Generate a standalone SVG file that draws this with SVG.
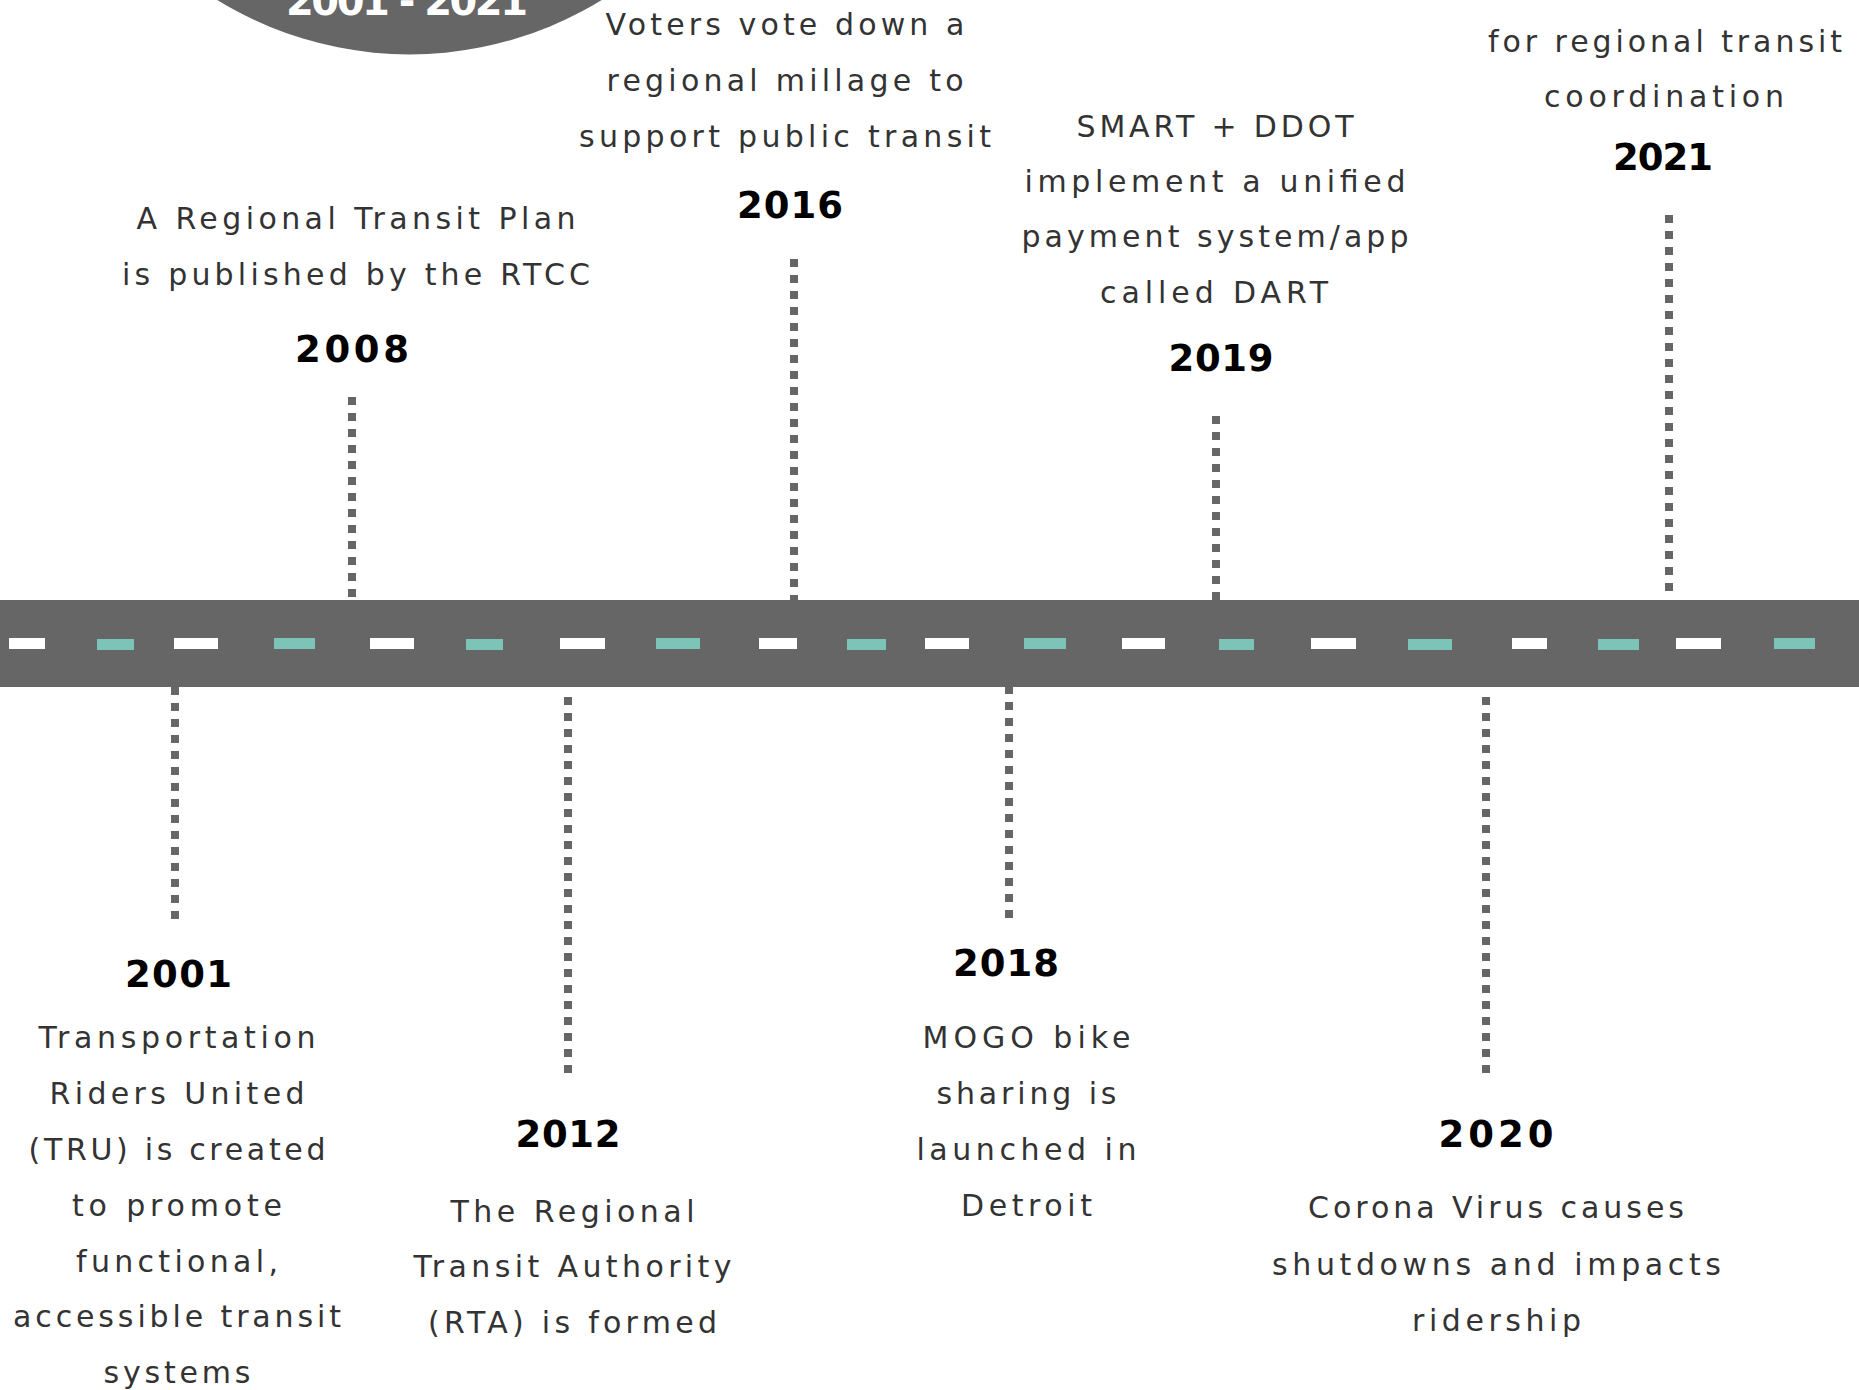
<svg xmlns="http://www.w3.org/2000/svg" width="1859" height="1390" viewBox="0 0 1859 1390">
  <style>
    .body { font-family: "DejaVu Sans", "Open Sans", sans-serif; font-size: 30px; fill: #333; text-anchor: middle; }
    .year { font-family: "DejaVu Sans", "Open Sans", sans-serif; font-size: 37px; font-weight: 700; fill: #000; text-anchor: middle; }
    .title { font-family: "DejaVu Sans", "Open Sans", sans-serif; font-size: 40px; font-weight: 700; fill: #fff; text-anchor: middle; }
    .tick { stroke: #666; stroke-width: 8; stroke-dasharray: 8 8; fill: none; }
    .lane-w { fill: #fff; }
    .lane-t { fill: #7cc4b8; }
  </style>

  <rect width="1859" height="1390" fill="#fff"/>

  <!-- title badge -->
  <g id="badge">
    <circle cx="409.5" cy="-312.6" r="367" fill="#666"/>
    <text class="title" x="407" y="15" textLength="242" lengthAdjust="spacing">2001 - 2021</text>
  </g>

  <!-- dotted ticks between the road and each event -->
  <g id="connectors">
    <line class="tick" x1="175" y1="687" x2="175" y2="919"/>
    <line class="tick" x1="352" y1="397" x2="352" y2="597"/>
    <line class="tick" x1="568" y1="697" x2="568" y2="1073"/>
    <line class="tick" x1="794" y1="259" x2="794" y2="603"/>
    <line class="tick" x1="1009" y1="686" x2="1009" y2="918"/>
    <line class="tick" x1="1216" y1="416" x2="1216" y2="600"/>
    <line class="tick" x1="1486" y1="697" x2="1486" y2="1073"/>
    <line class="tick" x1="1669" y1="215" x2="1669" y2="591"/>
  </g>

  <!-- road with lane markings -->
  <g id="road">
    <rect x="0" y="600" width="1859" height="87" fill="#666"/>
    <rect class="lane-w" x="9" y="638" width="36" height="11"/>
    <rect class="lane-t" x="97" y="639" width="37" height="11"/>
    <rect class="lane-w" x="174" y="638" width="44" height="11"/>
    <rect class="lane-t" x="274" y="638" width="41" height="11"/>
    <rect class="lane-w" x="370" y="638" width="44" height="11"/>
    <rect class="lane-t" x="466" y="639" width="37" height="11"/>
    <rect class="lane-w" x="560" y="638" width="45" height="11"/>
    <rect class="lane-t" x="656" y="638" width="44" height="11"/>
    <rect class="lane-w" x="759" y="638" width="38" height="11"/>
    <rect class="lane-t" x="847" y="639" width="39" height="11"/>
    <rect class="lane-w" x="925" y="638" width="44" height="11"/>
    <rect class="lane-t" x="1024" y="638" width="42" height="11"/>
    <rect class="lane-w" x="1122" y="638" width="43" height="11"/>
    <rect class="lane-t" x="1219" y="639" width="35" height="11"/>
    <rect class="lane-w" x="1311" y="638" width="45" height="11"/>
    <rect class="lane-t" x="1408" y="639" width="44" height="11"/>
    <rect class="lane-w" x="1512" y="638" width="35" height="11"/>
    <rect class="lane-t" x="1598" y="639" width="41" height="11"/>
    <rect class="lane-w" x="1676" y="638" width="45" height="11"/>
    <rect class="lane-t" x="1774" y="638" width="41" height="11"/>
  </g>

  <!-- events above the road -->
  <g id="event-2008">
    <text class="body" x="356" y="229" textLength="439" lengthAdjust="spacing">A Regional Transit Plan</text>
    <text class="body" x="356" y="285" textLength="468" lengthAdjust="spacing">is published by the RTCC</text>
    <text class="year" x="352" y="362" textLength="114" lengthAdjust="spacing">2008</text>
  </g>

  <g id="event-2016">
    <text class="body" x="785" y="35" textLength="359" lengthAdjust="spacing">Voters vote down a</text>
    <text class="body" x="785" y="91" textLength="357" lengthAdjust="spacing">regional millage to</text>
    <text class="body" x="785" y="147" textLength="412" lengthAdjust="spacing">support public transit</text>
    <text class="year" x="790" y="218" textLength="106" lengthAdjust="spacing">2016</text>
  </g>

  <g id="event-2019">
    <text class="body" x="1215" y="137" textLength="277" lengthAdjust="spacing">SMART + DDOT</text>
    <text class="body" x="1215" y="192" textLength="381" lengthAdjust="spacing">implement a unified</text>
    <text class="body" x="1215" y="247" textLength="387" lengthAdjust="spacing">payment system/app</text>
    <text class="body" x="1214" y="303" textLength="228" lengthAdjust="spacing">called DART</text>
    <text class="year" x="1221" y="371" textLength="105" lengthAdjust="spacing">2019</text>
  </g>

  <g id="event-2021">
    <text class="body" x="1665" y="52" textLength="354" lengthAdjust="spacing">for regional transit</text>
    <text class="body" x="1664" y="107" textLength="240" lengthAdjust="spacing">coordination</text>
    <text class="year" x="1663" y="170" textLength="100" lengthAdjust="spacing">2021</text>
  </g>

  <!-- events below the road -->
  <g id="event-2001">
    <text class="year" x="178.5" y="987" textLength="107" lengthAdjust="spacing">2001</text>
    <text class="body" x="177" y="1048" textLength="277" lengthAdjust="spacing">Transportation</text>
    <text class="body" x="177" y="1104" textLength="255" lengthAdjust="spacing">Riders United</text>
    <text class="body" x="177" y="1160" textLength="297" lengthAdjust="spacing">(TRU) is created</text>
    <text class="body" x="177" y="1216" textLength="210" lengthAdjust="spacing">to promote</text>
    <text class="body" x="177" y="1272" textLength="202" lengthAdjust="spacing">functional,</text>
    <text class="body" x="177" y="1327" textLength="328" lengthAdjust="spacing">accessible transit</text>
    <text class="body" x="177" y="1383" textLength="147" lengthAdjust="spacing">systems</text>
  </g>

  <g id="event-2012">
    <text class="year" x="568" y="1147" textLength="105" lengthAdjust="spacing">2012</text>
    <text class="body" x="572.5" y="1222" textLength="244" lengthAdjust="spacing">The Regional</text>
    <text class="body" x="572.5" y="1277" textLength="318" lengthAdjust="spacing">Transit Authority</text>
    <text class="body" x="572.5" y="1333" textLength="289" lengthAdjust="spacing">(RTA) is formed</text>
  </g>

  <g id="event-2018">
    <text class="year" x="1006" y="976" textLength="106" lengthAdjust="spacing">2018</text>
    <text class="body" x="1026.5" y="1048" textLength="208" lengthAdjust="spacing">MOGO bike</text>
    <text class="body" x="1026.5" y="1104" textLength="180" lengthAdjust="spacing">sharing is</text>
    <text class="body" x="1026.5" y="1160" textLength="220" lengthAdjust="spacing">launched in</text>
    <text class="body" x="1026.5" y="1216" textLength="131" lengthAdjust="spacing">Detroit</text>
  </g>

  <g id="event-2020">
    <text class="year" x="1496" y="1147" textLength="115" lengthAdjust="spacing">2020</text>
    <text class="body" x="1496" y="1218" textLength="376" lengthAdjust="spacing">Corona Virus causes</text>
    <text class="body" x="1496.5" y="1275" textLength="449" lengthAdjust="spacing">shutdowns and impacts</text>
    <text class="body" x="1496.5" y="1331" textLength="169" lengthAdjust="spacing">ridership</text>
  </g>
</svg>
